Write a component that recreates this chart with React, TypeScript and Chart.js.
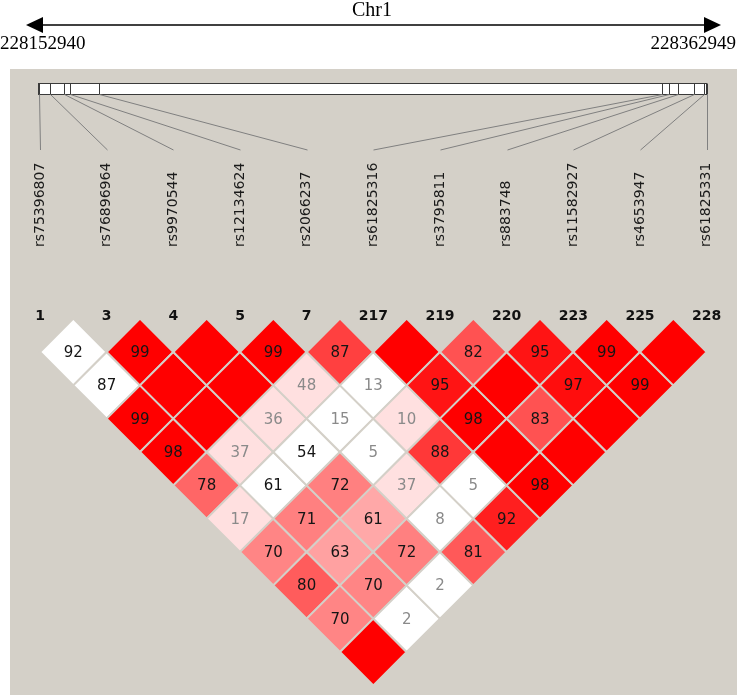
import { useEffect, useRef } from "react";
import { Chart, registerables } from "chart.js";

Chart.register(...registerables);

// ---- data ----
const chromosome = "Chr1";
const regionStart = 228152940;
const regionEnd = 228362949;

const snpNumbers = ["1", "3", "4", "5", "7", "217", "219", "220", "223", "225", "228"];
const snpNames = [
  "rs75396807", "rs76896964", "rs9970544", "rs12134624", "rs2066237", "rs61825316",
  "rs3795811", "rs883748", "rs11582927", "rs4653947", "rs61825331",
];
// estimated genomic positions (bp)
const snpPositions = [
  228152940, 228156710, 228160920, 228163000, 228172010, 228349110,
  228351190, 228353840, 228358960, 228362110, 228362949,
];

// pairwise LD values: row i holds pairs (i, j) for j > i ; 100 = shown as blank
const ldRow1 = [92, 87, 99, 98, 78, 17, 70, 80, 70, 100];
const ldRow2 = [99, 100, 100, 37, 61, 71, 63, 70, 2];
const ldRow3 = [100, 100, 36, 54, 72, 61, 72, 2];
const ldRow4 = [99, 48, 15, 5, 37, 8, 81];
const ldRow5 = [87, 13, 10, 88, 5, 92];
const ldRow6 = [100, 95, 98, 100, 98];
const ldRow7 = [82, 100, 83, 100];
const ldRow8 = [95, 97, 100];
const ldRow9 = [99, 99];
const ldRow10 = [100];
const ldValues = [ldRow1, ldRow2, ldRow3, ldRow4, ldRow5, ldRow6, ldRow7, ldRow8, ldRow9, ldRow10];

// colour strength of each cell (0 = white, 1 = full red)
const shadeRow1 = [0, 0, 1, 1, 0.6, 0.12, 0.48, 0.64, 0.48, 1];
const shadeRow2 = [1, 1, 1, 0.12, 0, 0.5, 0.37, 0.48, 0];
const shadeRow3 = [1, 1, 0.12, 0, 0.5, 0.34, 0.5, 0];
const shadeRow4 = [1, 0.12, 0, 0, 0.12, 0, 0.65];
const shadeRow5 = [0.75, 0, 0.12, 0.78, 0, 0.88];
const shadeRow6 = [1, 0.92, 1, 1, 1];
const shadeRow7 = [0.68, 1, 0.68, 1];
const shadeRow8 = [0.92, 0.95, 1];
const shadeRow9 = [1, 1];
const shadeRow10 = [1];
const ldShade = [shadeRow1, shadeRow2, shadeRow3, shadeRow4, shadeRow5, shadeRow6, shadeRow7, shadeRow8, shadeRow9, shadeRow10];

const PANEL = "#d4d0c8";
const SANS = '"DejaVu Sans", Verdana, sans-serif';
const SERIF = '"Liberation Serif", "Times New Roman", serif';

export default function App() {
  const ref = useRef<HTMLCanvasElement>(null);

  useEffect(() => {
    const canvas = ref.current;
    if (!canvas) return;

    const points: { x: number; y: number; v: number; s: number }[] = [];
    ldValues.forEach((row, i) =>
      row.forEach((v, k) => {
        const j = i + 1 + k;
        points.push({ x: (i + j) / 2, y: j - i, v, s: ldShade[i][k] });
      })
    );

    const halfStep = (c: any) => {
      const sx = c.chart.scales.x;
      return sx ? sx.getPixelForValue(0.5) - sx.getPixelForValue(0) : 33;
    };

    const decor = {
      id: "decor",
      beforeDraw(chart: any) {
        const ctx = chart.ctx as CanvasRenderingContext2D;
        const xs = chart.scales.x;
        ctx.save();
        ctx.fillStyle = "#ffffff";
        ctx.fillRect(0, 0, chart.width, chart.height);
        ctx.fillStyle = PANEL;
        ctx.fillRect(10, 69, 727, chart.height - 69);

        // chromosome arrow
        ctx.strokeStyle = "#000";
        ctx.lineWidth = 1.5;
        ctx.beginPath();
        ctx.moveTo(40, 25);
        ctx.lineTo(707, 25);
        ctx.stroke();
        ctx.fillStyle = "#000";
        ctx.beginPath();
        ctx.moveTo(26, 25);
        ctx.lineTo(43, 17);
        ctx.lineTo(43, 33);
        ctx.closePath();
        ctx.fill();
        ctx.beginPath();
        ctx.moveTo(721, 25);
        ctx.lineTo(704, 17);
        ctx.lineTo(704, 33);
        ctx.closePath();
        ctx.fill();
        ctx.font = `20px ${SERIF}`;
        ctx.textBaseline = "alphabetic";
        ctx.textAlign = "center";
        ctx.fillText(chromosome, 372, 16);
        ctx.font = `19px ${SERIF}`;
        ctx.textAlign = "left";
        ctx.fillText(String(regionStart), 0, 49);
        ctx.textAlign = "right";
        ctx.fillText(String(regionEnd), 736, 49);

        // marker bar
        const barL = 38.5, barR = 706.5, barT = 83.5, barB = 94.5;
        const bpX = (bp: number) => barL + ((bp - regionStart) / (regionEnd - regionStart)) * (barR - barL);
        ctx.fillStyle = "#ffffff";
        ctx.fillRect(barL, barT, barR - barL, barB - barT);
        ctx.strokeStyle = "#3a3a3a";
        ctx.lineWidth = 1;
        ctx.strokeRect(barL, barT, barR - barL, barB - barT);
        snpPositions.forEach((bp, i) => {
          const tx = Math.round(bpX(bp)) + 0.5;
          ctx.strokeStyle = "#3a3a3a";
          ctx.beginPath();
          ctx.moveTo(tx, barT);
          ctx.lineTo(tx, barB);
          ctx.stroke();
          ctx.strokeStyle = "#808080";
          ctx.beginPath();
          ctx.moveTo(tx, barB);
          ctx.lineTo(Math.round(xs.getPixelForValue(i)) + 0.5, 150);
          ctx.stroke();
        });

        // SNP names
        ctx.font = `14px ${SANS}`;
        ctx.fillStyle = "#1a1a1a";
        snpNames.forEach((n, i) => {
          ctx.save();
          ctx.translate(xs.getPixelForValue(i), 247);
          ctx.rotate(-Math.PI / 2);
          ctx.textAlign = "left";
          ctx.textBaseline = "middle";
          ctx.fillText(n, 0, 0);
          ctx.restore();
        });

        // SNP numbers
        ctx.font = `bold 14px ${SANS}`;
        ctx.fillStyle = "#111";
        ctx.textAlign = "center";
        ctx.textBaseline = "alphabetic";
        snpNumbers.forEach((n, i) => ctx.fillText(n, xs.getPixelForValue(i), 319.5));
        ctx.restore();
      },
      afterDatasetsDraw(chart: any) {
        const ctx = chart.ctx as CanvasRenderingContext2D;
        const meta = chart.getDatasetMeta(0);
        ctx.save();
        ctx.font = `15px ${SANS}`;
        ctx.textAlign = "center";
        ctx.textBaseline = "middle";
        meta.data.forEach((el: any, idx: number) => {
          const p = points[idx];
          if (p.v >= 100) return;
          ctx.fillStyle = p.v < 50 ? "#8a8a8a" : "#151515";
          ctx.fillText(String(p.v), el.x, el.y + 1);
        });
        ctx.restore();
      },
    };

    const chart = new Chart(canvas, {
      type: "scatter",
      data: {
        datasets: [
          {
            data: points as any,
            pointStyle: "rectRot",
            pointRadius: (c: any) => halfStep(c),
            pointHoverRadius: (c: any) => halfStep(c),
            backgroundColor: (c: any) => {
              const s = c.raw ? c.raw.s : 1;
              const g = Math.round(255 * (1 - s));
              return `rgb(255,${g},${g})`;
            },
            borderColor: PANEL,
            borderWidth: 2,
            pointBorderWidth: 2,
            clip: false as any,
          } as any,
        ],
      },
      options: {
        animation: false,
        responsive: false,
        events: [],
        layout: { padding: 0 },
        plugins: { legend: { display: false }, tooltip: { enabled: false }, title: { display: false } },
        scales: {
          x: { type: "linear", display: false, min: -0.6, max: 10.56, bounds: "data" },
          y: { type: "linear", display: false, reverse: true, min: -9.56, max: 11.29, bounds: "data" },
        },
      },
      plugins: [decor],
    });

    return () => chart.destroy();
  }, []);

  return (
    <div style={{ position: "fixed", left: 0, top: 0, width: 744, height: 695, background: "#fff" }}>
      <canvas ref={ref} width={744} height={695} style={{ display: "block", width: 744, height: 695 }} />
    </div>
  );
}
